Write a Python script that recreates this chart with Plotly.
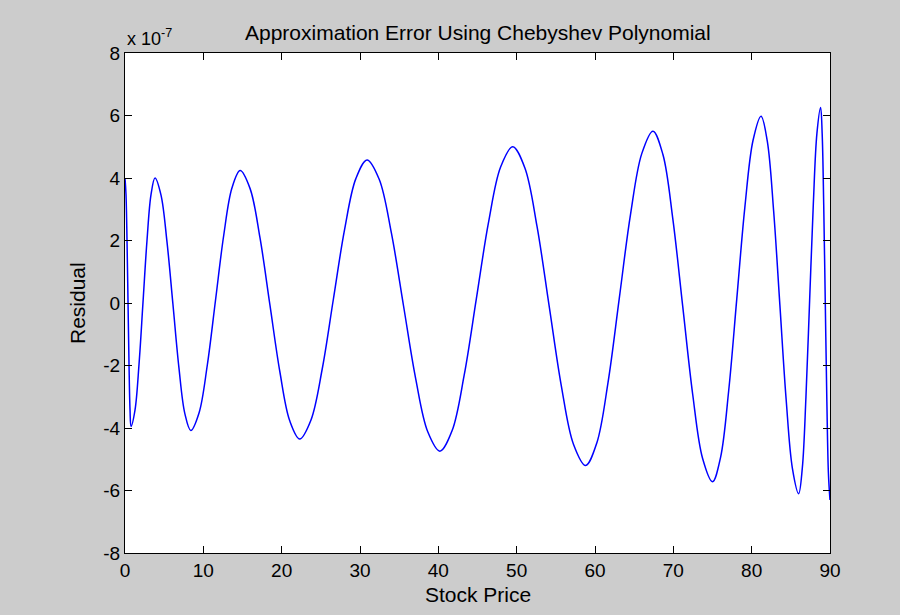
import plotly.graph_objects as go

# Stock price (x) and residual values in units of 1e-7
stock_price = [
    0.0, 0.128, 0.257, 0.385, 0.513, 0.642, 0.77,
    1.28, 1.79, 2.30, 2.81, 3.32, 3.83,
    4.59, 5.35, 6.12, 6.88, 7.64, 8.4,
    9.45, 10.5, 11.55, 12.6, 13.65, 14.7,
    15.97, 17.23, 18.5, 19.77, 21.03, 22.3,
    23.73, 25.17, 26.6, 28.03, 29.47, 30.9,
    32.45, 34.0, 35.55, 37.1, 38.65, 40.2,
    41.75, 43.3, 44.85, 46.4, 47.95, 49.5,
    51.05, 52.6, 54.15, 55.7, 57.25, 58.8,
    60.23, 61.67, 63.1, 64.53, 65.97, 67.4,
    68.67, 69.93, 71.2, 72.47, 73.73, 75.0,
    76.03, 77.07, 78.1, 79.13, 80.17, 81.2,
    82.0, 82.8, 83.6, 84.4, 85.2, 86.0,
    86.47, 86.93, 87.4, 87.87, 88.33, 88.8,
    89.0, 89.2, 89.4, 89.6, 89.8, 90.0,
]
residual_e7 = [
    4.00, 3.47, 2.01, 0.03, -1.96, -3.42, -3.95,
    -3.42, -1.96, 0.03, 2.01, 3.47, 4.00,
    3.46, 1.98, -0.04, -2.06, -3.54, -4.08,
    -3.52, -2.00, 0.08, 2.16, 3.68, 4.24,
    3.66, 2.09, -0.06, -2.20, -3.77, -4.35,
    -3.75, -2.12, 0.12, 2.35, 3.98, 4.58,
    3.96, 2.25, -0.08, -2.41, -4.12, -4.74,
    -4.09, -2.31, 0.13, 2.57, 4.35, 5.00,
    4.32, 2.45, -0.10, -2.65, -4.52, -5.20,
    -4.48, -2.53, 0.15, 2.83, 4.78, 5.50,
    4.75, 2.70, -0.11, -2.92, -4.97, -5.72,
    -4.94, -2.80, 0.13, 3.06, 5.20, 5.98,
    5.17, 2.96, -0.06, -3.08, -5.29, -6.10,
    -5.27, -3.01, 0.08, 3.17, 5.43, 6.26,
    5.42, 3.12, -0.02, -3.16, -5.46, -6.30,
]

x_ticks = [0, 10, 20, 30, 40, 50, 60, 70, 80, 90]
y_ticks = [-8, -6, -4, -2, 0, 2, 4, 6, 8]

FONT = "Liberation Sans, Arial, Helvetica, sans-serif"

fig = go.Figure()
fig.add_trace(go.Scatter(
    x=stock_price, y=residual_e7, mode="lines",
    line=dict(color="#0000ff", width=1.5, shape="spline", smoothing=1.0),
    showlegend=False, hoverinfo="x+y",
))

axis_common = dict(
    showgrid=False, zeroline=False, showline=True, linecolor="black", linewidth=1,
    mirror="ticks", ticks="inside", ticklen=7, tickcolor="black", tickwidth=1,
    tickfont=dict(family=FONT, size=19, color="black"),
)
fig.update_xaxes(range=[0, 90], tickvals=x_ticks, ticktext=[str(v) for v in x_ticks], **axis_common)
fig.update_yaxes(range=[-8, 8], tickvals=y_ticks, ticktext=[str(v) for v in y_ticks], **axis_common)

fig.update_layout(
    width=900, height=615,
    paper_bgcolor="#cccccc", plot_bgcolor="white",
    margin=dict(l=125, r=70, t=53, b=62),
    annotations=[
        dict(text="Approximation Error Using Chebyshev Polynomial", xref="paper", yref="paper",
             x=0.5, y=1, yshift=21, xanchor="center", yanchor="middle", showarrow=False,
             font=dict(family=FONT, size=21, color="black")),
        dict(text="Stock Price", xref="paper", yref="paper", x=0.5, y=0, yshift=-41,
             xanchor="center", yanchor="middle", showarrow=False,
             font=dict(family=FONT, size=21, color="black")),
        dict(text="Residual", xref="paper", yref="paper", x=0, y=0.5, xshift=-48,
             xanchor="center", yanchor="middle", textangle=-90, showarrow=False,
             font=dict(family=FONT, size=21, color="black")),
        dict(text="x 10<sup>-7</sup>", xref="paper", yref="paper", x=0, y=1, yshift=2,
             xanchor="left", yanchor="bottom", showarrow=False,
             font=dict(family=FONT, size=18, color="black")),
    ],
)

fig.write_html(
    "out.html",
    config={"displayModeBar": False},
    post_script="document.body.style.margin='0';document.body.style.background='#cccccc';",
)
